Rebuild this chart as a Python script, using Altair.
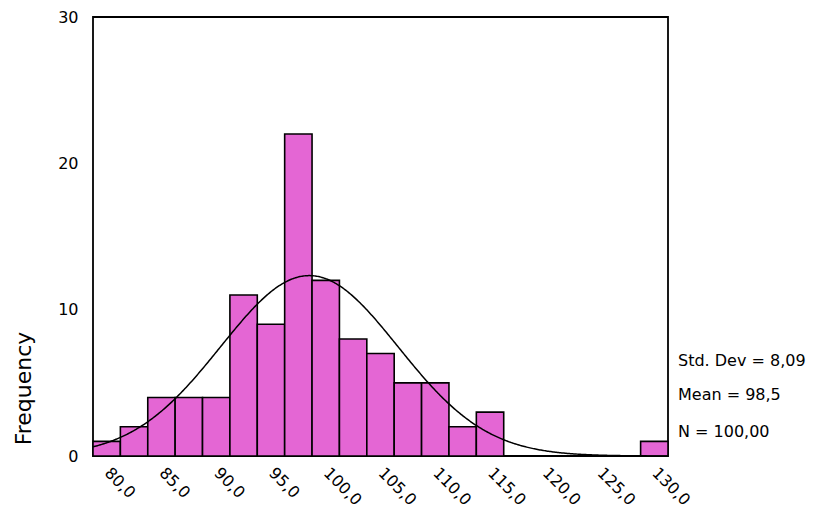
import altair as alt
import pandas as pd

# Histogram data (bin centres and frequencies)
bin_centers = [80.0, 82.5, 85.0, 87.5, 90.0, 92.5, 95.0, 97.5, 100.0, 102.5,
               105.0, 107.5, 110.0, 112.5, 115.0, 117.5, 120.0, 122.5, 125.0,
               127.5, 130.0]
frequencies = [1, 2, 4, 4, 4, 11, 9, 22, 12, 8, 7, 5, 5, 2, 3, 0, 0, 0, 0, 0, 1]

BIN_WIDTH = 2.5
MEAN = 98.5
SD = 8.09
N = 100

x_ticks = [80, 85, 90, 95, 100, 105, 110, 115, 120, 125, 130]
y_ticks = [0, 10, 20, 30]
stat_labels = ["Std. Dev = 8,09", "Mean = 98,5", "N = 100,00"]

FONT = "DejaVu Sans"
BAR_COLOR = "#e466d4"

x_min = bin_centers[0] - BIN_WIDTH / 2
x_max = bin_centers[-1] + BIN_WIDTH / 2

df = pd.DataFrame({"center": bin_centers, "count": frequencies})

x_scale = alt.Scale(domain=[x_min, x_max], nice=False, zero=False)
y_scale = alt.Scale(domain=[0, 30], nice=False)

bars = (
    alt.Chart(df)
    .transform_filter("datum.count > 0")
    .transform_calculate(
        x0=f"datum.center - {BIN_WIDTH / 2}",
        x1=f"datum.center + {BIN_WIDTH / 2}",
        base="0",
    )
    .mark_rect(color=BAR_COLOR, stroke="black", strokeWidth=1.6, opacity=1)
    .encode(
        x=alt.X(
            "x0:Q",
            scale=x_scale,
            axis=alt.Axis(
                values=x_ticks,
                labelExpr="replace(format(datum.value, '.1f'), '.', ',')",
                labelAngle=45,
                labelAlign="left",
                labelBaseline="middle",
                labelPadding=14,
                labelFontSize=16,
                labelFont=FONT,
                labelColor="black",
                ticks=False,
                domain=False,
                grid=False,
                title=None,
            ),
        ),
        x2="x1:Q",
        y=alt.Y(
            "count:Q",
            scale=y_scale,
            axis=alt.Axis(
                values=y_ticks,
                labelFontSize=16,
                labelFont=FONT,
                labelColor="black",
                labelPadding=15,
                ticks=False,
                domain=False,
                grid=False,
                title="Frequency",
                titleFont=FONT,
                titleFontSize=22,
                titleFontWeight="normal",
                titleColor="black",
                titleAngle=-90,
                titleAlign="center",
                titleBaseline="middle",
                titleX=-70,
                titleY=371,
            ),
        ),
        y2="base:Q",
    )
)

curve = (
    alt.Chart(alt.sequence(x_min, x_max + 0.05, 0.1, as_="v"))
    .transform_calculate(
        f=f"{N * BIN_WIDTH} * densityNormal(datum.v, {MEAN}, {SD})"
    )
    .mark_line(color="black", strokeWidth=1.5)
    .encode(x=alt.X("v:Q", scale=x_scale), y=alt.Y("f:Q", scale=y_scale))
)

text_layers = []
for i, lab in enumerate(stat_labels):
    text_layers.append(
        alt.Chart(pd.DataFrame({"t": [lab]}))
        .mark_text(align="left", baseline="middle", font=FONT, fontSize=16, color="black")
        .encode(text="t:N", x=alt.value(585), y=alt.value([344, 378, 415][i]))
    )

chart = (
    alt.layer(bars, curve, *text_layers)
    .properties(
        width=575,
        height=439,
        background="white",
        autosize=alt.AutoSizeParams(type="none"),
        padding={"left": 85, "top": 9, "right": 149, "bottom": 52},
    )
    .configure_view(stroke="black", strokeWidth=1.8)
)

chart.save("out.html", embed_options={"renderer": "svg", "actions": False})
